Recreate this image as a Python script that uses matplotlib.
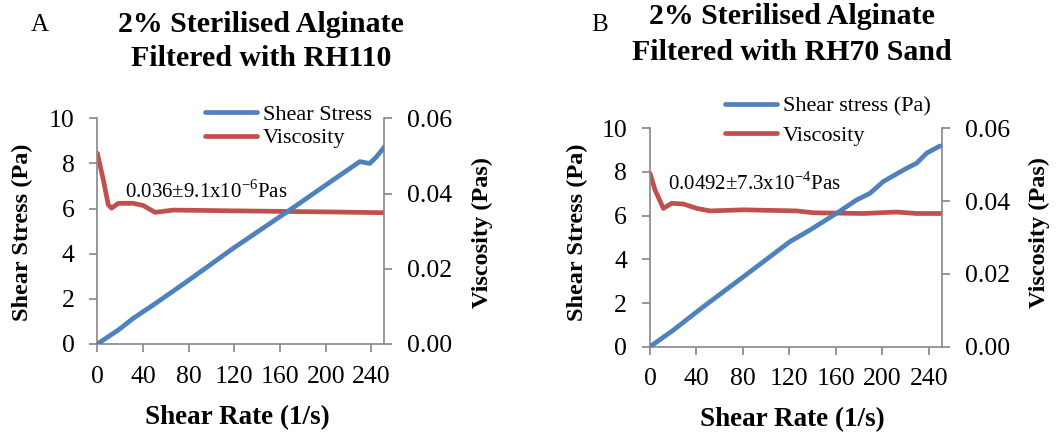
import matplotlib
matplotlib.use("Agg")
import matplotlib.pyplot as plt

plt.rcParams['font.family'] = ['Liberation Serif', 'DejaVu Serif']
plt.rcParams['mathtext.fontset'] = 'custom'
plt.rcParams['mathtext.rm'] = 'Liberation Serif'

# Panel A data
a_rate_stress = [0, 18.4, 31.5, 49, 78.2, 119, 168.6, 206.5, 229.8, 238.6, 244.5, 251.5]
a_stress = [0, 0.62, 1.14, 1.73, 2.76, 4.24, 5.94, 7.27, 8.08, 8.0, 8.3, 8.74]
a_rate_visc = [0, 5.3, 9.6, 12.5, 18.4, 31.5, 40.3, 50.5, 66.6, 119, 206.5, 251.5]
a_visc = [0.0507, 0.0436, 0.0370, 0.0361, 0.0374, 0.0374, 0.0368, 0.0350, 0.0356, 0.0354, 0.0351, 0.0349]

# Panel B data
b_rate_stress = [0, 20.1, 45.9, 80.3, 120.4, 137.6, 160.6, 177.8, 189.2, 200.7, 220.8, 229.4, 238, 249.5]
b_stress = [0, 0.76, 1.83, 3.2, 4.81, 5.34, 6.11, 6.72, 7.02, 7.56, 8.17, 8.4, 8.86, 9.19]
b_rate_visc = [0, 4.3, 11.5, 18.6, 28.7, 40.2, 51.6, 80.3, 126.2, 140.5, 183.5, 212.2, 229.4, 250.9]
b_visc = [0.0476, 0.0431, 0.0380, 0.0394, 0.0392, 0.0380, 0.0373, 0.0376, 0.0373, 0.0368, 0.0366, 0.0370, 0.0366, 0.0366]

x_ticks = [0, 40, 80, 120, 160, 200, 240]
y_ticks = [0, 2, 4, 6, 8, 10]
y2_ticks = [0.00, 0.02, 0.04, 0.06]

BLUE = '#4F81BD'
RED = '#C0504D'
GRAY = '#868686'

W, H = 1061, 434
fig = plt.figure(figsize=(W / 100, H / 100), dpi=100)


def px(x0, y0, x1, y1):
    return [x0 / W, 1 - y1 / H, (x1 - x0) / W, (y1 - y0) / H]


panels = [
    dict(rect=px(97.3, 118.3, 384, 344), rs=a_rate_stress, s=a_stress, rv=a_rate_visc, v=a_visc,
         label1='Shear Stress', letter='A', lpos=(40, 25),
         title1='2% Sterilised Alginate', title2='Filtered with RH110', tx=261, ty1=24, ty2=58,
         ann=r'0.036±9.1x10$^{\mathregular{-6}}$Pas', ann_xy=(125, 191),
         leg_xy=(205, 104), legspace=0.15, ylab_x=22, y2lab_x=482, xlab_y=418),
    dict(rect=px(650, 128.3, 941.7, 346.7), rs=b_rate_stress, s=b_stress, rv=b_rate_visc, v=b_visc,
         label1='Shear stress (Pa)', letter='B', lpos=(600, 25),
         title1='2% Sterilised Alginate', title2='Filtered with RH70 Sand', tx=792, ty1=17, ty2=52,
         ann=r'0.0492±7.3x10$^{\mathregular{-4}}$Pas', ann_xy=(668, 183),
         leg_xy=(725, 96), legspace=0.4, ylab_x=577, y2lab_x=1039, xlab_y=420),
]

for p in panels:
    ax = fig.add_axes(p['rect'])
    ax2 = ax.twinx()
    l1, = ax.plot(p['rs'], p['s'], color=BLUE, lw=3.4, solid_capstyle='round', label=p['label1'], zorder=3)
    l2, = ax2.plot(p['rv'], p['v'], color=RED, lw=3.4, solid_capstyle='round', label='Viscosity')
    ax.set_xlim(0, 251)
    ax.set_ylim(0, 10)
    ax2.set_ylim(0, 0.06)
    ax.set_xticks(x_ticks)
    ax.set_yticks(y_ticks)
    ax2.set_yticks(y2_ticks)
    ax2.set_yticklabels([f'{v:.2f}' for v in y2_ticks])
    for a in (ax, ax2):
        for side in ('left', 'right', 'bottom'):
            a.spines[side].set_color(GRAY)
            a.spines[side].set_linewidth(1.2)
        a.spines['top'].set_visible(False)
        a.tick_params(direction='out', length=5.5, width=1.2, color=GRAY, labelsize=18.5, pad=11)
    ax.tick_params(axis='x', pad=10)
    ax.spines['right'].set_visible(False)
    ax2.spines['left'].set_visible(False)
    ax2.spines['bottom'].set_visible(False)
    ax.set_zorder(ax2.get_zorder() + 1)
    ax.patch.set_visible(False)

    fig.text(p['ylab_x'] / W, 1 - 232 / H, 'Shear Stress (Pa)', rotation=90, ha='center', va='center',
             fontsize=17.5, fontweight='bold')
    fig.text(p['y2lab_x'] / W, 1 - 232 / H, 'Viscosity (Pas)', rotation=90, ha='center', va='center',
             fontsize=17.5, fontweight='bold')
    cx = (p['rect'][0] + p['rect'][2] / 2)
    fig.text(cx - 3 / W, 1 - p['xlab_y'] / H, 'Shear Rate (1/s)', ha='center', va='center',
             fontsize=19.5, fontweight='bold')
    fig.text(p['tx'] / W, 1 - p['ty1'] / H, p['title1'], ha='center', va='center', fontsize=21.5, fontweight='bold')
    fig.text(p['tx'] / W, 1 - p['ty2'] / H, p['title2'], ha='center', va='center', fontsize=21.5, fontweight='bold')
    fig.text(p['lpos'][0] / W, 1 - p['lpos'][1] / H, p['letter'], ha='center', va='center', fontsize=18)
    fig.text(p['ann_xy'][0] / W, 1 - p['ann_xy'][1] / H, p['ann'], ha='left', va='center', fontsize=15)

    fig.legend(handles=[l1, l2], loc='upper left',
               bbox_to_anchor=(p['leg_xy'][0] / W, 1 - p['leg_xy'][1] / H),
               frameon=False, fontsize=16, handlelength=2.35, handletextpad=0.25,
               labelspacing=p['legspace'], borderpad=0, borderaxespad=0)

fig.savefig('out.png', dpi=100)
